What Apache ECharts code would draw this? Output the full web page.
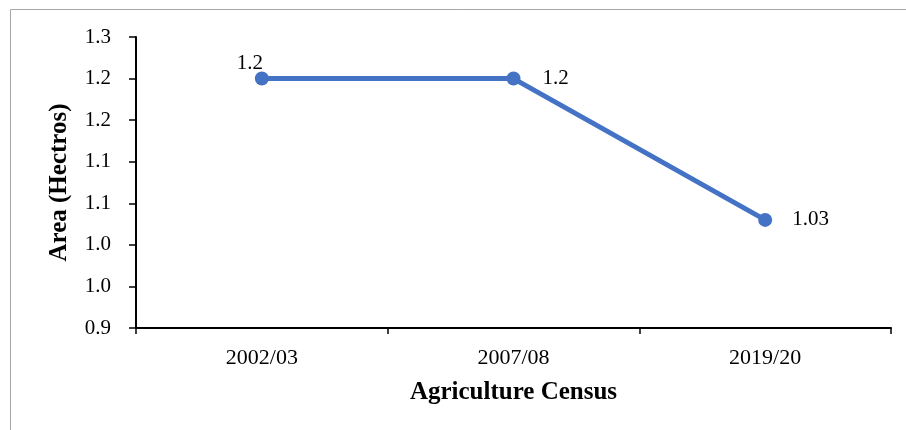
<!DOCTYPE html>
<html>
<head>
<meta charset="utf-8">
<script src="https://cdn.jsdelivr.net/npm/echarts@6/dist/echarts.min.js"></script>
<style>html,body{margin:0;padding:0;background:#fff}#c{width:906px;height:430px}</style>
</head>
<body>
<div id="c"></div>
<script>
var categories = ['2002/03', '2007/08', '2019/20'];
var areaValues = [1.2, 1.2, 1.03];
var pointLabels = ['1.2', '1.2', '1.03'];
var yTickLabels = ['0.9', '1.0', '1.0', '1.1', '1.1', '1.2', '1.2', '1.3'];
var yMin = 0.9, yMax = 1.25, yStep = 0.05;

var font = '"Liberation Serif", "Times New Roman", serif';
var chart = echarts.init(document.getElementById('c'), null, {renderer: 'canvas'});

var labelCfg = [
  {position: 'top', offset: [-12, 2], distance: 0},
  {position: 'right', distance: 22, offset: [0, 0]},
  {position: 'right', distance: 20, offset: [0, 0]}
];

chart.setOption({
  animation: false,
  backgroundColor: '#fff',
  graphic: [{
    type: 'rect',
    shape: {x: 10.5, y: 9.5, width: 3000, height: 3000},
    style: {fill: 'none', stroke: '#a6a6a6', lineWidth: 1},
    silent: true
  }],
  grid: {left: 136, right: 15, top: 37, bottom: 102},
  xAxis: {
    type: 'category',
    data: categories,
    boundaryGap: true,
    name: 'Agriculture Census',
    nameLocation: 'middle',
    nameGap: 52,
    nameTextStyle: {fontFamily: font, fontSize: 25, fontWeight: 'bold', color: '#000'},
    axisLine: {lineStyle: {color: '#000', width: 2}},
    axisTick: {show: true, inside: false, length: 6, lineStyle: {color: '#000', width: 1.5}},
    axisLabel: {fontFamily: font, fontSize: 22, color: '#000', margin: 19},
    splitLine: {show: false}
  },
  yAxis: {
    type: 'value',
    min: yMin,
    max: yMax,
    interval: yStep,
    name: 'Area (Hectros)',
    nameLocation: 'middle',
    nameGap: 64,
    nameTextStyle: {fontFamily: font, fontSize: 25, fontWeight: 'bold', color: '#000'},
    axisLine: {show: true, lineStyle: {color: '#000', width: 2}},
    axisTick: {show: true, inside: false, length: 7, lineStyle: {color: '#000', width: 1.5}},
    axisLabel: {
      fontFamily: font, fontSize: 21, color: '#000', margin: 25,
      formatter: function (v) {
        var i = Math.round((v - yMin) / yStep);
        return yTickLabels[i] !== undefined ? yTickLabels[i] : '';
      }
    },
    splitLine: {show: false}
  },
  series: [{
    type: 'line',
    data: areaValues.map(function (v, i) {
      return {
        value: v,
        label: {
          show: true,
          position: labelCfg[i].position,
          distance: labelCfg[i].distance,
          offset: labelCfg[i].offset,
          formatter: pointLabels[i],
          fontFamily: font, fontSize: 21, color: '#000'
        }
      };
    }),
    symbol: 'circle',
    symbolSize: 14,
    lineStyle: {color: '#4472C4', width: 5},
    itemStyle: {color: '#4472C4'}
  }]
});
</script>
</body>
</html>
